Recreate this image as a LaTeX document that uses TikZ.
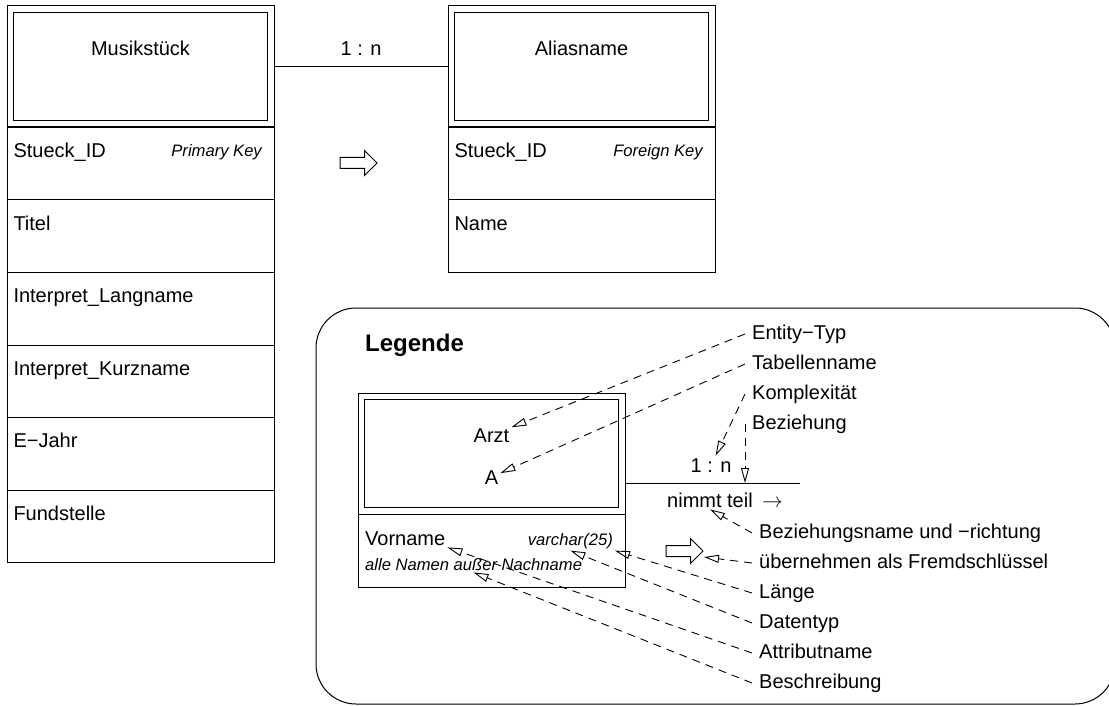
\documentclass[tikz,border=0pt]{standalone}
\usepackage{fontspec}
\setmainfont{Liberation Sans}
\usetikzlibrary{positioning,arrows.meta,calc}
\newcommand{\erfont}{\fontsize{20}{24}\selectfont}
\newcommand{\erkeyfont}{\fontsize{16.6}{20}\selectfont\itshape}
\newcommand{\ertitlefont}{\fontsize{24}{28}\selectfont\bfseries}
\tikzset{
  entityhead/.style={draw, double, double distance=5.5pt, line width=1pt, minimum width=260.5pt, minimum height=114.5pt, inner sep=0pt},
  attrrow/.style={draw, line width=1pt, anchor=north west, text width=255pt, align=left, inner xsep=6pt, inner ysep=0pt, text height=30pt, text depth=42.5pt, font=\erfont},
  headtext/.style={anchor=base, inner sep=2pt, font=\erfont},
  attrtext/.style={anchor=base west, inner sep=2pt, font=\erfont},
  keytext/.style={anchor=base east, inner sep=2pt, font=\erkeyfont},
  desctext/.style={anchor=base west, inner sep=2pt, font=\erkeyfont},
  cardtext/.style={anchor=base, yshift=11pt, inner sep=2pt, font=\erfont},
  legtext/.style={anchor=base west, inner xsep=7pt, inner ysep=0pt, text height=14pt, text depth=4pt, font=\erfont},
  relline/.style={line width=1pt},
  legendframe/.style={draw, line width=1pt, rounded corners=40pt},
  legarrow/.style={-{Triangle[open, length=15pt, width=8pt]}, line width=0.9pt, dash pattern=on 8pt off 6pt},
  hollowarrow/.pic={
    \draw[line width=1pt] (0,-5.5) -- (24.5,-5.5) -- (24.5,-12.5) -- (37,0) -- (24.5,12.5) -- (24.5,5.5) -- (0,5.5) -- cycle;
    \coordinate (-tip) at (38,6);
  }
}
\begin{document}
\begin{tikzpicture}[x=1pt, y=-1pt]
  \useasboundingbox (0,0) rectangle (1109,706);
  % Musikstueck
  \node[entityhead] (musik-head) at (140.5,66.5) {};
  \node[headtext] (musik-name) at (140.5,56) {Musikstück};
  \node[attrrow] (musik-id) at (7,127) {Stueck\_ID};
  \node[keytext] (musik-pk) at (264,157) {Primary Key};
  \node[attrrow] (musik-titel) at (7,199.5) {Titel};
  \node[attrrow] (musik-lang) at (7,272) {Interpret\_Langname};
  \node[attrrow] (musik-kurz) at (7,344.5) {Interpret\_Kurzname};
  \node[attrrow] (musik-jahr) at (7,417) {E−Jahr};
  \node[attrrow] (musik-fund) at (7,489.5) {Fundstelle};
  % Aliasname
  \node[entityhead] (alias-head) at (581.5,66.5) {};
  \node[headtext] (alias-name) at (581.5,56) {Aliasname};
  \node[attrrow] (alias-id) at (448,127) {Stueck\_ID};
  \node[keytext] (alias-fk) at (705,157) {Foreign Key};
  \node[attrrow] (alias-attr) at (448,199.5) {Name};
  \draw[relline, shorten <=3.25pt, shorten >=3.25pt] (musik-head) -- node[cardtext] (musik-card) {1 : n} (alias-head);
  \pic (musik-arrow) at (340,163) {hollowarrow};
  % Legende
  \draw[legendframe] (316,308) rectangle (1115,704);
  \node[anchor=base west, inner sep=0pt, font=\ertitlefont] (legend-title) at (365,351) {Legende};
  \node[entityhead] (arzt-head) at (491.5,453.5) {};
  \node[headtext] (arzt-name) at (491.5,442) {Arzt};
  \node[headtext] (arzt-abbr) at (491.5,484) {A};
  \node[attrrow] (arzt-row) at (358,514) {};
  \node[attrtext] (vorname) at (363,545) {Vorname};
  \node[keytext] (dtype) at (615,545) {varchar(25)};
  \node[desctext] (desc) at (363,570) {alle Namen außer Nachname};
  \coordinate (rel-end) at (800,483);
  \draw[relline, shorten <=3.25pt] (arzt-head.east |- rel-end) -- node[cardtext] (arzt-card) {1 : n} (rel-end);
  \node[attrtext] (relname) at (665,507) {nimmt teil};
  \node[attrtext] (reldir) at (760,507) {$\rightarrow$};
  \pic (fk-arrow) at (666,551) {hollowarrow};
  % Erklaerungen
  \node[legtext] (lbl-entity) at (745,339) {Entity−Typ};
  \node[legtext] (lbl-table) at (745,369) {Tabellenname};
  \node[legtext] (lbl-card) at (745,399) {Komplexität};
  \node[legtext] (lbl-rel) at (745,429) {Beziehung};
  \node[legtext] (lbl-relname) at (752,538) {Beziehungsname und −richtung};
  \node[legtext] (lbl-fk) at (752,568) {übernehmen als Fremdschlüssel};
  \node[legtext] (lbl-len) at (752,598) {Länge};
  \node[legtext] (lbl-type) at (752,628) {Datentyp};
  \node[legtext] (lbl-attr) at (752,658) {Attributname};
  \node[legtext] (lbl-desc) at (752,688) {Beschreibung};
  \draw[legarrow] (lbl-entity.west) -- (arzt-name);
  \draw[legarrow] (lbl-table.west) -- (arzt-abbr);
  \draw[legarrow] (lbl-card.west) -- (arzt-card);
  \draw[legarrow] (lbl-rel.west) -- (lbl-rel.west |- rel-end);
  \draw[legarrow] (lbl-relname.west) -- (relname.south);
  \draw[legarrow] (lbl-fk.west) -- (fk-arrow-tip);
  \draw[legarrow] (lbl-len.west) -- (dtype.south east);
  \draw[legarrow] (lbl-type.west) -- (dtype.south);
  \draw[legarrow] (lbl-attr.west) -- (vorname.south east);
  \draw[legarrow] (lbl-desc.west) -- (desc.south);
\end{tikzpicture}
\end{document}
